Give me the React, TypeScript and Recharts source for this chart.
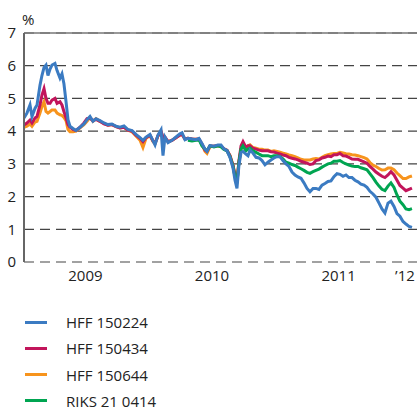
import React from 'react';
import { LineChart, Line, XAxis, YAxis, CartesianGrid, ReferenceLine } from 'recharts';

// Dates as fractional years
const dates = [
  2009.000, 2009.024, 2009.049, 2009.065, 2009.090, 2009.106, 2009.130, 2009.146, 2009.163, 2009.179,
  2009.195, 2009.212, 2009.228, 2009.252, 2009.269, 2009.293, 2009.309, 2009.325, 2009.342, 2009.358,
  2009.374, 2009.399, 2009.423, 2009.456, 2009.488, 2009.513, 2009.537, 2009.561, 2009.586, 2009.618,
  2009.651, 2009.683, 2009.716, 2009.749, 2009.781, 2009.814, 2009.846, 2009.879, 2009.911, 2009.944,
  2009.968, 2009.993, 2010.025, 2010.050, 2010.066, 2010.090, 2010.115, 2010.131, 2010.147, 2010.172,
  2010.204, 2010.237, 2010.269, 2010.286, 2010.310, 2010.334, 2010.367, 2010.400, 2010.424, 2010.448,
  2010.473, 2010.489, 2010.513, 2010.546, 2010.578, 2010.603, 2010.627, 2010.652, 2010.676, 2010.701,
  2010.717, 2010.733, 2010.749, 2010.766, 2010.782, 2010.806, 2010.823, 2010.839, 2010.863, 2010.888,
  2010.912, 2010.937, 2010.961, 2010.985, 2011.010, 2011.034, 2011.059, 2011.083, 2011.107, 2011.132,
  2011.156, 2011.181, 2011.205, 2011.229, 2011.254, 2011.278, 2011.303, 2011.327, 2011.352, 2011.376,
  2011.400, 2011.425, 2011.449, 2011.474, 2011.498, 2011.522, 2011.547, 2011.571, 2011.596, 2011.620,
  2011.644, 2011.669, 2011.693, 2011.718, 2011.742, 2011.767, 2011.791, 2011.815, 2011.840, 2011.864,
  2011.889, 2011.913, 2011.937, 2011.962, 2011.986, 2012.011, 2012.035, 2012.059, 2012.084, 2012.108,
  2012.133, 2012.157,
];

const hff150224 = [
  4.40, 4.55, 4.80, 4.45, 4.70, 4.80, 5.40, 5.70, 5.95, 6.02,
  5.70, 5.90, 6.02, 6.07, 5.85, 5.62, 5.75, 5.45, 4.90, 4.35,
  4.15, 4.08, 4.02, 4.12, 4.22, 4.35, 4.45, 4.30, 4.38, 4.32,
  4.25, 4.20, 4.22, 4.15, 4.12, 4.16, 4.05, 4.02, 3.90, 3.80,
  3.72, 3.82, 3.90, 3.70, 3.58, 3.88, 4.04, 3.25, 3.82, 3.65,
  3.72, 3.82, 3.92, 3.95, 3.74, 3.78, 3.76, 3.74, 3.78, 3.62,
  3.45, 3.38, 3.56, 3.54, 3.58, 3.58, 3.46, 3.40, 3.20, 2.87,
  2.50, 2.25, 2.95, 3.35, 3.38, 3.30, 3.25, 3.42, 3.33, 3.20,
  3.18, 3.10, 2.97, 3.05, 3.12, 3.18, 3.22, 3.22, 3.10, 3.00,
  2.92, 2.75, 2.66, 2.60, 2.56, 2.42, 2.25, 2.15, 2.25, 2.25,
  2.22, 2.35, 2.40, 2.46, 2.48, 2.61, 2.70, 2.68, 2.62, 2.66,
  2.58, 2.58, 2.50, 2.45, 2.38, 2.35, 2.28, 2.16, 2.08, 1.98,
  1.80, 1.62, 1.50, 1.80, 1.86, 1.70, 1.48, 1.40, 1.24, 1.16,
  1.09, 1.06,
];

const hff150434 = [
  4.19, 4.25, 4.34, 4.25, 4.40, 4.45, 4.80, 5.10, 5.30, 5.00,
  4.85, 4.85, 4.95, 5.00, 4.85, 4.90, 4.80, 4.60, 4.40, 4.20,
  4.12, 4.05, 4.02, 4.12, 4.25, 4.38, 4.40, 4.32, 4.36, 4.30,
  4.22, 4.18, 4.20, 4.14, 4.10, 4.12, 4.03, 4.00, 3.88, 3.78,
  3.68, 3.80, 3.88, 3.70, 3.62, 3.85, 4.00, 3.80, 3.82, 3.68,
  3.72, 3.80, 3.88, 3.90, 3.76, 3.78, 3.76, 3.75, 3.76, 3.60,
  3.42, 3.38, 3.55, 3.54, 3.56, 3.54, 3.46, 3.42, 3.25, 2.95,
  2.65, 2.45, 3.10, 3.55, 3.68, 3.50, 3.55, 3.55, 3.48, 3.45,
  3.42, 3.40, 3.40, 3.40, 3.37, 3.36, 3.33, 3.30, 3.27, 3.25,
  3.20, 3.17, 3.15, 3.12, 3.08, 3.05, 3.02, 2.98, 3.00, 3.10,
  3.12, 3.18, 3.20, 3.24, 3.22, 3.28, 3.28, 3.32, 3.25, 3.24,
  3.20, 3.15, 3.14, 3.14, 3.10, 3.06, 3.02, 2.92, 2.84, 2.75,
  2.68, 2.62, 2.58, 2.66, 2.76, 2.66, 2.50, 2.34, 2.26, 2.18,
  2.22, 2.26,
];

const hff150644 = [
  4.12, 4.15, 4.22, 4.15, 4.28, 4.30, 4.55, 4.75, 4.90, 4.60,
  4.55, 4.60, 4.65, 4.65, 4.55, 4.50, 4.48, 4.42, 4.32, 4.05,
  3.98, 3.98, 4.00, 4.10, 4.20, 4.30, 4.42, 4.30, 4.38, 4.30,
  4.24, 4.18, 4.20, 4.14, 4.10, 4.12, 4.03, 3.98, 3.85, 3.72,
  3.50, 3.78, 3.86, 3.68, 3.62, 3.85, 3.98, 3.80, 3.80, 3.68,
  3.72, 3.80, 3.88, 3.90, 3.76, 3.78, 3.76, 3.75, 3.76, 3.60,
  3.38, 3.32, 3.52, 3.54, 3.55, 3.54, 3.46, 3.40, 3.25, 2.95,
  2.65, 2.45, 3.05, 3.45, 3.60, 3.52, 3.55, 3.58, 3.50, 3.48,
  3.45, 3.45, 3.42, 3.42, 3.38, 3.40, 3.38, 3.36, 3.33, 3.30,
  3.27, 3.25, 3.22, 3.18, 3.14, 3.12, 3.12, 3.12, 3.15, 3.16,
  3.15, 3.20, 3.25, 3.28, 3.30, 3.32, 3.32, 3.35, 3.33, 3.31,
  3.30, 3.28, 3.27, 3.25, 3.22, 3.19, 3.15, 3.04, 2.96, 2.92,
  2.86, 2.81, 2.82, 2.87, 2.87, 2.82, 2.72, 2.64, 2.55, 2.55,
  2.60, 2.63,
];

const riks210414 = [
  null, null, null, null, null, null, null, null, null, null,
  null, null, null, null, null, null, null, null, null, null,
  null, null, null, null, null, null, null, null, null, null,
  null, null, null, null, null, null, null, null, null, null,
  null, null, null, null, null, null, null, null, null, null,
  null, null, null, null, null, 3.72, 3.70, 3.72, 3.74, 3.55,
  3.45, 3.40, 3.55, 3.52, 3.55, 3.52, 3.44, 3.40, 3.22, 2.92,
  2.60, 2.40, 3.05, 3.45, 3.55, 3.40, 3.45, 3.48, 3.40, 3.35,
  3.30, 3.25, 3.25, 3.25, 3.22, 3.25, 3.25, 3.22, 3.15, 3.05,
  3.02, 2.98, 2.95, 2.90, 2.85, 2.80, 2.74, 2.71, 2.76, 2.80,
  2.84, 2.90, 2.95, 3.00, 3.02, 3.08, 3.08, 3.10, 3.04, 3.00,
  2.96, 2.93, 2.92, 2.92, 2.88, 2.85, 2.82, 2.70, 2.58, 2.44,
  2.32, 2.22, 2.18, 2.32, 2.42, 2.28, 2.05, 1.86, 1.75, 1.62,
  1.60, 1.63,
];

const seriesNames = ['HFF 150224', 'HFF 150434', 'HFF 150644', 'RIKS 21 0414'];
const seriesKeys = ['b', 'm', 'o', 'g'];
const seriesColors = ['#3b7bc2', '#c2155b', '#f7941d', '#00a551'];

const yTicks = [0, 1, 2, 3, 4, 5, 6, 7];
const yearTicks = [2009, 2010, 2011, 2012];
const yearLabelPos = [2009.5, 2010.53, 2011.56, 2012.1];
const yearLabels = ['2009', '2010', '2011', '\u201912'];

const data = dates.map((t, i) => ({
  t,
  b: hff150224[i],
  m: hff150434[i],
  o: hff150644[i],
  g: riks210414[i],
}));

const drawOrder = [2, 1, 3, 0];
const FONT = '"Open Sans", sans-serif';

export default function App() {
  return (
    <div
      style={{
        position: 'absolute',
        left: 0,
        top: 0,
        width: 417,
        height: 407,
        background: '#fff',
        fontFamily: FONT,
        color: '#222',
        overflow: 'hidden',
      }}
    >
      <div style={{ position: 'absolute', left: 22, top: 9, fontSize: 15, lineHeight: '20px' }}>%</div>
      <LineChart width={417} height={292} data={data} margin={{ top: 33, right: 0, left: 0, bottom: 0 }}>
        <CartesianGrid vertical={false} strokeDasharray="10 6" stroke="#444" strokeWidth={1.2} />
        <XAxis
          type="number"
          dataKey="t"
          domain={[2009, 2012.198]}
          ticks={yearTicks}
          tick={false}
          tickSize={7}
          tickLine={{ stroke: '#666', strokeWidth: 1.5 }}
          axisLine={{ stroke: '#666', strokeWidth: 2 }}
          height={0}
          allowDataOverflow
        />
        <XAxis
          xAxisId="lbl"
          type="number"
          dataKey="t"
          domain={[2009, 2012.198]}
          ticks={yearLabelPos}
          tickFormatter={(v: number) => yearLabels[yearLabelPos.indexOf(v)] ?? ''}
          tickLine={false}
          axisLine={false}
          tickSize={6}
          tickMargin={2}
          tick={{ fontSize: 15, fill: '#222', fontFamily: FONT }}
          height={30}
          interval={0}
          allowDataOverflow
        />
        <YAxis
          type="number"
          domain={[0, 7]}
          ticks={yTicks}
          width={24}
          tickLine={false}
          axisLine={{ stroke: '#666', strokeWidth: 2 }}
          tick={{ fontSize: 15, fill: '#222', fontFamily: FONT }}
          interval={0}
        />
        <ReferenceLine y={7} stroke="#777" strokeWidth={1.5} />
        {drawOrder.map((i) => (
          <Line
            key={seriesKeys[i]}
            type="linear"
            dataKey={seriesKeys[i]}
            name={seriesNames[i]}
            stroke={seriesColors[i]}
            strokeWidth={3}
            dot={false}
            activeDot={false}
            isAnimationActive={false}
            connectNulls={false}
          />
        ))}
      </LineChart>
      {seriesNames.map((name, i) => (
        <div
          key={name}
          style={{
            position: 'absolute',
            left: 25,
            top: 315 + i * 26.3,
            height: 14,
            lineHeight: '14px',
            display: 'flex',
            alignItems: 'center',
            fontSize: 15,
          }}
        >
          <span style={{ display: 'inline-block', width: 22, height: 3, background: seriesColors[i] }} />
          <span style={{ marginLeft: 19 }}>{name}</span>
        </div>
      ))}
    </div>
  );
}
